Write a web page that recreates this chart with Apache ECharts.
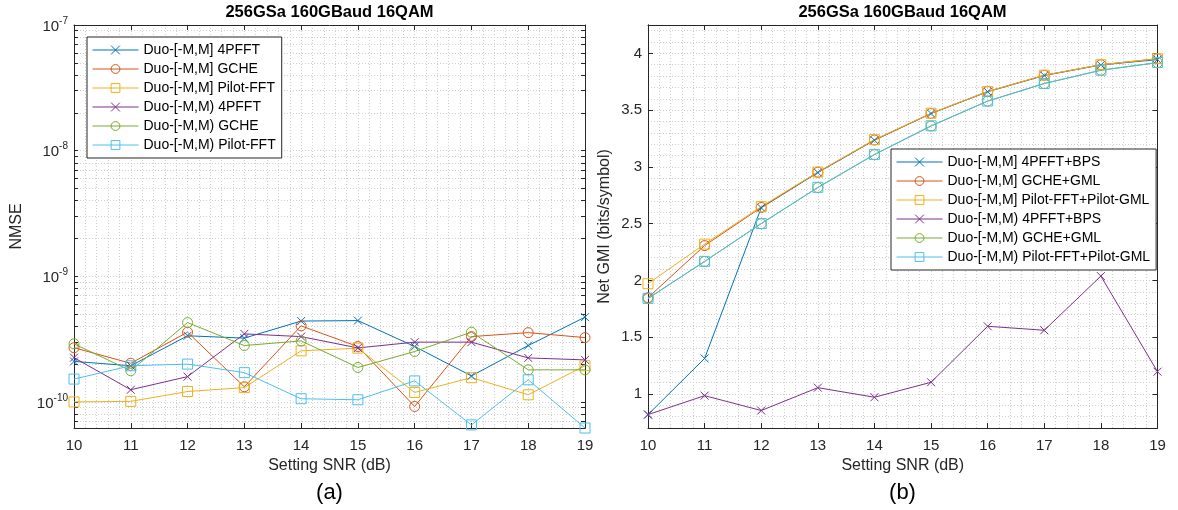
<!DOCTYPE html>
<html><head><meta charset="utf-8">
<script src="https://cdn.jsdelivr.net/npm/echarts@6/dist/echarts.min.js"></script>
<style>html,body{margin:0;padding:0;background:#fff}#c{width:1178px;height:510px}</style>
</head><body><div id="c"></div>
<script>
// ---------------- data ----------------
const snr = [10, 11, 12, 13, 14, 15, 16, 17, 18, 19];
const titleText = '256GSa 160GBaud 16QAM';
const xName = 'Setting SNR (dB)';
const leftYName = 'NMSE';
const rightYName = 'Net GMI (bits/symbol)';
const panelLabels = ['(a)', '(b)'];

const nmseNames = ['Duo-[-M,M] 4PFFT', 'Duo-[-M,M] GCHE', 'Duo-[-M,M] Pilot-FFT',
                   'Duo-[-M,M) 4PFFT', 'Duo-[-M,M) GCHE', 'Duo-[-M,M) Pilot-FFT'];
const nmse_cc_4pfft = [2.10e-10, 1.94e-10, 3.36e-10, 3.22e-10, 4.40e-10, 4.44e-10, 2.76e-10, 1.61e-10, 2.81e-10, 4.73e-10];
const nmse_cc_gche  = [2.70e-10, 2.03e-10, 3.59e-10, 1.32e-10, 4.03e-10, 2.76e-10, 0.92e-10, 3.31e-10, 3.56e-10, 3.25e-10];
const nmse_cc_pilot = [1.00e-10, 1.01e-10, 1.21e-10, 1.30e-10, 2.55e-10, 2.68e-10, 1.19e-10, 1.56e-10, 1.14e-10, 1.94e-10];
const nmse_co_4pfft = [2.25e-10, 1.25e-10, 1.59e-10, 3.48e-10, 3.31e-10, 2.69e-10, 2.99e-10, 2.99e-10, 2.24e-10, 2.16e-10];
const nmse_co_gche  = [2.90e-10, 1.77e-10, 4.28e-10, 2.81e-10, 3.06e-10, 1.88e-10, 2.52e-10, 3.59e-10, 1.80e-10, 1.80e-10];
const nmse_co_pilot = [1.52e-10, 1.94e-10, 2.00e-10, 1.71e-10, 1.06e-10, 1.04e-10, 1.47e-10, 0.656e-10, 1.50e-10, 0.62e-10];

const gmiNames = ['Duo-[-M,M] 4PFFT+BPS', 'Duo-[-M,M] GCHE+GML', 'Duo-[-M,M] Pilot-FFT+Pilot-GML',
                  'Duo-[-M,M) 4PFFT+BPS', 'Duo-[-M,M) GCHE+GML', 'Duo-[-M,M) Pilot-FFT+Pilot-GML'];
const gmi_cc_4pfft = [0.818, 1.313, 2.640, 2.950, 3.235, 3.470, 3.662, 3.805, 3.898, 3.945];
const gmi_cc_gche  = [1.848, 2.307, 2.643, 2.953, 3.237, 3.471, 3.664, 3.807, 3.900, 3.953];
const gmi_cc_pilot = [1.971, 2.320, 2.650, 2.955, 3.240, 3.473, 3.665, 3.808, 3.900, 3.953];
const gmi_co_4pfft = [0.818, 0.985, 0.854, 1.055, 0.971, 1.103, 1.596, 1.561, 2.038, 1.196];
const gmi_co_gche  = [1.840, 2.167, 2.500, 2.818, 3.108, 3.360, 3.579, 3.734, 3.851, 3.918];
const gmi_co_pilot = [1.842, 2.168, 2.501, 2.820, 3.110, 3.362, 3.580, 3.735, 3.852, 3.920];

const nmseTickLabels = [1e-10, 1e-9, 1e-8, 1e-7];
const gmiTickLabels = [1, 1.5, 2, 2.5, 3, 3.5, 4];

// ---------------- styling ----------------
const colors = ['#0072BD', '#D95319', '#EDB120', '#7E2F8E', '#77AC30', '#4DBEEE'];
const X = 'path://M0,0L10,10M10,0L0,10';
const symbols = [X, 'circle', 'rect', X, 'circle', 'rect'];
const axisCol = '#262626';
const gridCol = '#cfcfcf';
const FONT = 'Liberation Sans, Arial, Helvetica, sans-serif';

// log minor tick positions (2..9 per decade)
const logTicks = [];
for (let e = -11; e <= -8; e++) for (let m = 1; m <= 9; m++) logTicks.push(+(m + 'e' + e));
logTicks.push(1e-7);

function mk(name, vals, i, xi, yi) {
  const c = colors[i];
  return {
    type: 'line', name, xAxisIndex: xi, yAxisIndex: yi,
    data: snr.map((x, k) => [x, vals[k]]),
    symbol: symbols[i], symbolSize: symbols[i] === X ? 8 : 10, showSymbol: true,
    lineStyle: { color: c, width: 1 },
    itemStyle: { color: 'rgba(0,0,0,0)', borderColor: c, borderWidth: 1 },
    emphasis: { disabled: true }, animation: false
  };
}

const dotted = { show: true, lineStyle: { color: gridCol, type: [1, 2], width: 1 } };
const lineAx = { show: true, lineStyle: { color: axisCol, width: 1 } };

function xAx(grid, top) {
  return {
    type: 'value', gridIndex: grid, min: 10, max: 19, interval: 1,
    position: top ? 'top' : 'bottom',
    axisLine: lineAx,
    axisTick: { show: true, inside: true, length: 5, lineStyle: { color: axisCol } },
    axisLabel: top ? { show: false } : { show: true, color: axisCol, fontSize: 15, fontFamily: FONT, margin: 10 },
    splitLine: top ? { show: false } : dotted,
    minorTick: { show: false, splitNumber: 5 },
    minorSplitLine: top ? { show: false } : dotted,
    name: top ? '' : xName, nameLocation: 'middle', nameGap: 30,
    nameTextStyle: { color: axisCol, fontSize: 16, fontFamily: FONT }
  };
}

function legendOf(names, left, top) {
  return {
    data: names, left, top, orient: 'vertical',
    itemWidth: 46, itemHeight: 11, itemGap: 3,
    itemStyle: { borderWidth: 1 }, lineStyle: { width: 1 },
    padding: [5, 6, 5, 5], borderColor: axisCol, borderWidth: 1, backgroundColor: '#fff',
    textStyle: { fontSize: 14, fontFamily: FONT, color: '#000', lineHeight: 16 },
    selectedMode: false
  };
}

const chart = echarts.init(document.getElementById('c'), null, { renderer: 'canvas' });
const option = {
  animation: false,
  backgroundColor: '#fff',
  grid: [
    { left: 74, right: 593, top: 25, bottom: 82 },
    { left: 648, right: 20.5, top: 25, bottom: 82 }
  ],
  graphic: [
    { type: 'text', x: 329.5, y: 12, style: { text: titleText, textAlign: 'center', textVerticalAlign: 'middle', font: 'bold 16.5px ' + FONT, fill: '#000' } },
    { type: 'text', x: 902.5, y: 12, style: { text: titleText, textAlign: 'center', textVerticalAlign: 'middle', font: 'bold 16.5px ' + FONT, fill: '#000' } },
    { type: 'text', x: 329.5, y: 493, style: { text: panelLabels[0], textAlign: 'center', textVerticalAlign: 'middle', font: '22px ' + FONT, fill: '#000' } },
    { type: 'text', x: 902.5, y: 493, style: { text: panelLabels[1], textAlign: 'center', textVerticalAlign: 'middle', font: '22px ' + FONT, fill: '#000' } }
  ],
  legend: [legendOf(nmseNames, 87, 37), legendOf(gmiNames, 891, 149)],
  xAxis: [xAx(0, false), xAx(0, true), xAx(1, false), xAx(1, true)],
  yAxis: [
    {
      type: 'log', logBase: 10, gridIndex: 0, min: 6.2e-11, max: 1e-7, position: 'left',
      axisLine: lineAx,
      axisTick: { show: true, inside: true, length: 4, customValues: logTicks, lineStyle: { color: axisCol } },
      axisLabel: {
        show: true, customValues: nmseTickLabels, margin: 6,
        formatter: v => '{b|10}{s|' + Math.round(Math.log10(v)) + '}',
        rich: {
          b: { fontSize: 15, fontFamily: FONT, color: axisCol, verticalAlign: 'bottom', lineHeight: 18 },
          s: { fontSize: 10, fontFamily: FONT, color: axisCol, verticalAlign: 'top', lineHeight: 18, padding: [0, 0, 8, 0] }
        }
      },
      splitLine: dotted,
      name: leftYName, nameLocation: 'middle', nameGap: 49, nameRotate: 90,
      nameTextStyle: { color: axisCol, fontSize: 16, fontFamily: FONT }
    },
    {
      type: 'log', logBase: 10, gridIndex: 0, min: 6.2e-11, max: 1e-7, position: 'right',
      axisLine: lineAx,
      axisTick: { show: true, inside: true, length: 4, customValues: logTicks, lineStyle: { color: axisCol } },
      axisLabel: { show: false }, splitLine: { show: false }
    },
    {
      type: 'value', gridIndex: 1, min: 0.7, max: 4.25, interval: 0.1, position: 'left',
      axisLine: lineAx, axisTick: { show: false }, axisLabel: { show: false },
      splitLine: dotted
    },
    {
      type: 'value', gridIndex: 1, min: 0.7, max: 4.25, position: 'left',
      axisLine: lineAx,
      axisTick: { show: true, inside: true, length: 5, customValues: gmiTickLabels, lineStyle: { color: axisCol } },
      axisLabel: { show: true, customValues: gmiTickLabels, color: axisCol, fontSize: 15, fontFamily: FONT, margin: 6 },
      splitLine: { show: false },
      name: rightYName, nameLocation: 'middle', nameGap: 35, nameRotate: 90,
      nameTextStyle: { color: axisCol, fontSize: 16, fontFamily: FONT }
    },
    {
      type: 'value', gridIndex: 1, min: 0.7, max: 4.25, position: 'right',
      axisLine: lineAx,
      axisTick: { show: true, inside: true, length: 5, customValues: gmiTickLabels, lineStyle: { color: axisCol } },
      axisLabel: { show: false }, splitLine: { show: false }
    }
  ],
  series: [
    mk(nmseNames[0], nmse_cc_4pfft, 0, 0, 0),
    mk(nmseNames[1], nmse_cc_gche, 1, 0, 0),
    mk(nmseNames[2], nmse_cc_pilot, 2, 0, 0),
    mk(nmseNames[3], nmse_co_4pfft, 3, 0, 0),
    mk(nmseNames[4], nmse_co_gche, 4, 0, 0),
    mk(nmseNames[5], nmse_co_pilot, 5, 0, 0),
    mk(gmiNames[0], gmi_cc_4pfft, 0, 2, 2),
    mk(gmiNames[1], gmi_cc_gche, 1, 2, 2),
    mk(gmiNames[2], gmi_cc_pilot, 2, 2, 2),
    mk(gmiNames[3], gmi_co_4pfft, 3, 2, 2),
    mk(gmiNames[4], gmi_co_gche, 4, 2, 2),
    mk(gmiNames[5], gmi_co_pilot, 5, 2, 2)
  ]
};
chart.setOption(option);
</script>
</body></html>
